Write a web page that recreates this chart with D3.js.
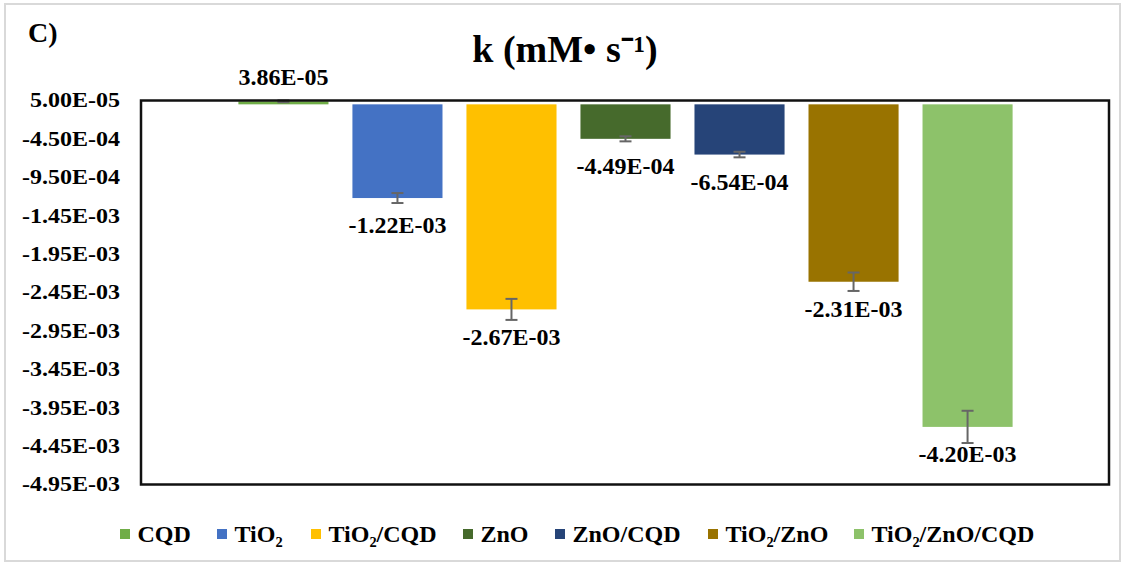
<!DOCTYPE html>
<html>
<head>
<meta charset="utf-8">
<script src="https://cdn.jsdelivr.net/npm/d3@7"></script>
<style>
  body { margin: 0; background: #fff; }
  svg text { font-family: "Liberation Serif", "Times New Roman", serif; font-weight: bold; fill: #000; }
</style>
</head>
<body>
<svg id="chart"></svg>
<script>
// series names, values and error bars (mM/s)
var seriesNames = ['CQD', 'TiO\u2082', 'TiO\u2082/CQD', 'ZnO', 'ZnO/CQD', 'TiO\u2082/ZnO', 'TiO\u2082/ZnO/CQD'];
var kValues = [3.86e-5, -1.22e-3, -2.67e-3, -4.49e-4, -6.54e-4, -2.31e-3, -4.20e-3];
var kErrors = [1.2e-5, 6.5e-5, 1.37e-4, 3.3e-5, 3.6e-5, 1.2e-4, 2.1e-4];
var seriesColors = ['#70ad47', '#4472c4', '#ffc000', '#466a2c', '#264478', '#997300', '#8dc26a'];
var yTicks = [5.0e-5, -4.5e-4, -9.5e-4, -1.45e-3, -1.95e-3, -2.45e-3, -2.95e-3, -3.45e-3, -3.95e-3, -4.45e-3, -4.95e-3];

var W = 1125, H = 566;
var plotL = 141, plotR = 1109, plotT = 100.5, plotB = 484.5;

var svg = d3.select('#chart').attr('width', W).attr('height', H);

// excel style 0.00E-00
function sci(v) {
    var s = v.toExponential(2).split('e');
    var e = parseInt(s[1], 10);
    var es = (e < 0 ? '-' : '') + (Math.abs(e) < 10 ? '0' : '') + Math.abs(e);
    return s[0] + 'E' + es;
}

// outer chart border
svg.append('rect').attr('x', 5).attr('y', 4).attr('width', 1115).attr('height', 557)
    .attr('fill', '#fff').attr('stroke', '#d9d9d9').attr('stroke-width', 2);

var y = d3.scaleLinear().domain([yTicks[yTicks.length - 1], yTicks[0]]).range([plotB, plotT]);
var x = d3.scaleBand().domain(seriesNames).range([227, 1024]).paddingInner(0.21).paddingOuter(0.1);

// bars
svg.append('g').selectAll('rect').data(kValues).enter().append('rect')
    .attr('x', function (d, i) { return x(seriesNames[i]); })
    .attr('width', x.bandwidth())
    .attr('y', function (d) { return Math.min(y(d), y(0)); })
    .attr('height', function (d) { return Math.abs(y(d) - y(0)); })
    .attr('fill', function (d, i) { return seriesColors[i]; });

// error bars
var eb = svg.append('g').attr('stroke', '#666').attr('stroke-width', 2);
kValues.forEach(function (v, i) {
    var cx = x(seriesNames[i]) + x.bandwidth() / 2;
    var y1 = y(v - kErrors[i]), y2 = y(v + kErrors[i]);
    eb.append('line').attr('x1', cx).attr('x2', cx).attr('y1', y1).attr('y2', y2);
    eb.append('line').attr('x1', cx - 6).attr('x2', cx + 6).attr('y1', y1).attr('y2', y1);
    eb.append('line').attr('x1', cx - 6).attr('x2', cx + 6).attr('y1', y2).attr('y2', y2);
});

// plot frame
svg.append('rect').attr('x', plotL).attr('y', plotT).attr('width', plotR - plotL).attr('height', plotB - plotT)
    .attr('fill', 'none').attr('stroke', '#111').attr('stroke-width', 2.5);

// y axis labels
var yAxis = svg.append('g').attr('transform', 'translate(' + plotL + ',0)')
    .call(d3.axisLeft(y).tickValues(yTicks).tickSize(0).tickPadding(0).tickFormat(sci));
yAxis.select('.domain').remove();
yAxis.selectAll('text')
    .attr('x', -17.5)
    .attr('transform', 'scale(1.2,1)')
    .style('font-size', '20px')
    .style('font-family', '"Liberation Serif", serif');

// data labels
svg.append('g').selectAll('text').data(kValues).enter().append('text')
    .attr('x', function (d, i) { return x(seriesNames[i]) + x.bandwidth() / 2; })
    .attr('y', function (d) { return d >= 0 ? y(d) - 25 : y(d) + 27; })
    .attr('dy', '0.35em')
    .attr('text-anchor', 'middle')
    .style('font-size', '24px')
    .text(function (d) { return sci(d); });

// titles
svg.append('text').attr('x', 565).attr('y', 62).attr('text-anchor', 'middle')
    .style('font-size', '38px').text('k (mM\u2022 s\u207b\u00b9)');
svg.append('text').attr('x', 28).attr('y', 42).style('font-size', '28px').text('C)');

// legend
var legendX = [120, 217, 311, 463, 555, 708, 854];
var lg = svg.append('g');
seriesNames.forEach(function (name, i) {
    lg.append('rect').attr('x', legendX[i]).attr('y', 529).attr('width', 10).attr('height', 10)
        .attr('fill', seriesColors[i]);
    lg.append('text').attr('x', legendX[i] + 17.5).attr('y', 542)
        .style('font-size', '24px').text(name);
});
</script>
</body>
</html>
